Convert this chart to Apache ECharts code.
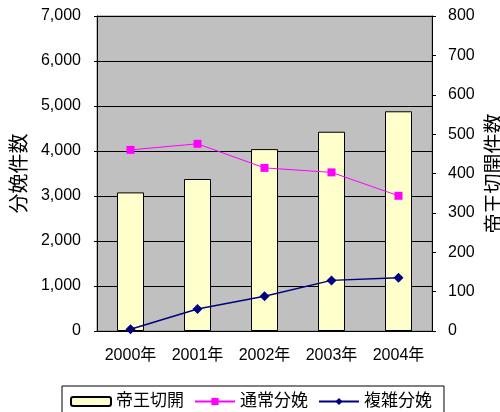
<!DOCTYPE html>
<html>
<head>
<meta charset="utf-8">
<script src="https://cdn.jsdelivr.net/npm/echarts@6/dist/echarts.min.js"></script>
<style>
    html, body { margin: 0; padding: 0; background: #fff; }
    #main { width: 500px; height: 412px; }
</style>
</head>
<body>
<div id="main"></div>
<script>
    // 年度
    var years = ['2000年', '2001年', '2002年', '2003年', '2004年'];
    // 帝王切開 (右軸)
    var caesarean = [352, 386, 462, 506, 558];
    // 通常分娩 (左軸)
    var normalBirth = [4025, 4160, 3625, 3525, 3005];
    // 複雑分娩 (左軸)
    var complexBirth = [40, 490, 770, 1125, 1185];

    var font = 'Arial, "Liberation Sans", "Noto Sans CJK JP", sans-serif';

    var myChart = echarts.init(document.getElementById('main'));
    myChart.setOption({
        animation: false,
        textStyle: { fontFamily: font, color: '#000' },
        grid: {
            left: 97, right: 68, top: 16, bottom: 81,
            outerBoundsMode: 'none',
            containLabel: false,
            show: true,
            backgroundColor: '#C0C0C0',
            borderColor: '#808080',
            borderWidth: 1
        },
        legend: {
            left: 62, top: 386,
            padding: [7, 12, 20, 8],
            itemWidth: 40, itemHeight: 9, itemGap: 10,
            borderColor: '#000', borderWidth: 1,
            textStyle: { fontSize: 17, color: '#000', fontFamily: font },
            data: ['帝王切開', '通常分娩', '複雑分娩']
        },
        xAxis: {
            type: 'category',
            data: years,
            axisLine: { lineStyle: { color: '#000', width: 1 } },
            axisTick: { inside: true, length: 5, lineStyle: { color: '#000' } },
            axisLabel: { fontSize: 16, color: '#000', margin: 17, interval: 0 },
            splitLine: { show: false }
        },
        yAxis: [
            {
                type: 'value',
                name: '分娩件数',
                nameLocation: 'middle',
                nameRotate: 90,
                nameGap: 65,
                nameTextStyle: { fontSize: 20, color: '#000' },
                min: 0, max: 7000, interval: 1000,
                axisLine: { show: true, lineStyle: { color: '#000' } },
                axisTick: { show: true, length: 3, lineStyle: { color: '#000' } },
                axisLabel: {
                    fontSize: 16, color: '#000', margin: 16,
                    formatter: function (v) { return v.toLocaleString('en-US'); }
                },
                splitLine: { show: true, lineStyle: { color: '#000', width: 1 } }
            },
            {
                type: 'value',
                name: '帝王切開件数',
                nameLocation: 'middle',
                nameRotate: 90,
                nameGap: 50,
                nameTextStyle: { fontSize: 20, color: '#000' },
                min: 0, max: 800, interval: 100,
                axisLine: { show: true, lineStyle: { color: '#000' } },
                axisTick: { show: true, length: 4, lineStyle: { color: '#000' } },
                axisLabel: { fontSize: 16, color: '#000', margin: 16 },
                splitLine: { show: false }
            }
        ],
        series: [
            {
                name: '帝王切開',
                type: 'bar',
                yAxisIndex: 1,
                barWidth: 27,
                data: caesarean,
                itemStyle: { color: '#FFFFCC', borderColor: '#000', borderWidth: 1 }
            },
            {
                name: '通常分娩',
                type: 'line',
                yAxisIndex: 0,
                data: normalBirth,
                symbol: 'rect',
                symbolSize: 8,
                lineStyle: { color: '#FF00FF', width: 1 },
                itemStyle: { color: '#FF00FF' }
            },
            {
                name: '複雑分娩',
                type: 'line',
                yAxisIndex: 0,
                data: complexBirth,
                symbol: 'diamond',
                symbolSize: 10,
                lineStyle: { color: '#000080', width: 1.5 },
                itemStyle: { color: '#000080' }
            }
        ]
    });
</script>
</body>
</html>
